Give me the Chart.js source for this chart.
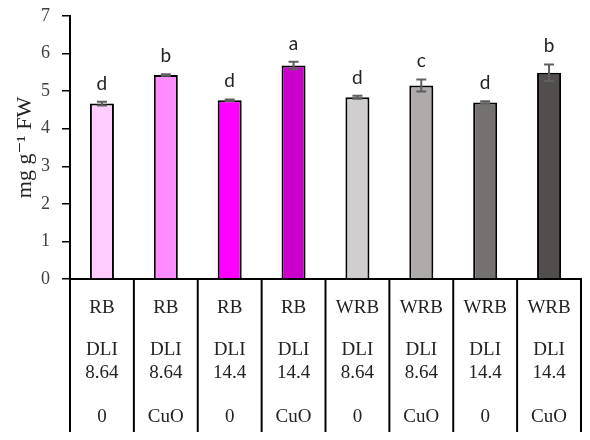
<!DOCTYPE html>
<html>
<head>
<meta charset="utf-8">
<script src="https://cdn.jsdelivr.net/npm/chart.js@4"></script>
<style>
  body { margin: 0; background: #fff; }
</style>
</head>
<body>
<canvas id="mainChart" width="590" height="440"></canvas>
<script>
const luz = ['RB', 'RB', 'RB', 'RB', 'WRB', 'WRB', 'WRB', 'WRB'];
const dli = ['8.64', '8.64', '14.4', '14.4', '8.64', '8.64', '14.4', '14.4'];
const cuo = ['0', 'CuO', '0', 'CuO', '0', 'CuO', '0', 'CuO'];
const valores = [4.67, 5.43, 4.76, 5.68, 4.84, 5.15, 4.70, 5.49];
const erros = [0.05, 0.02, 0.02, 0.10, 0.04, 0.16, 0.03, 0.22];
const letras = ['d', 'b', 'd', 'a', 'd', 'c', 'd', 'b'];
const cores = ['#FFCCFF', '#FF8CFF', '#FF00FF', '#CC00CC', '#D0CECE', '#AFABAB', '#767171', '#524E4E'];
const yTicks = [0, 1, 2, 3, 4, 5, 6, 7];

const serif = '"Liberation Serif", "DejaVu Serif", serif';

// error bars + significance letters
const barExtras = {
    id: 'barExtras',
    afterDatasetsDraw(chart) {
        const ctx = chart.ctx;
        const y = chart.scales.y;
        const meta = chart.getDatasetMeta(0);
        ctx.save();
        meta.data.forEach((bar, i) => {
            const top = y.getPixelForValue(valores[i] + erros[i]);
            const bot = y.getPixelForValue(valores[i] - erros[i]);
            ctx.strokeStyle = '#5f5f5f';
            ctx.lineWidth = 2;
            ctx.beginPath();
            ctx.moveTo(bar.x, top); ctx.lineTo(bar.x, bot);
            ctx.moveTo(bar.x - 5, top); ctx.lineTo(bar.x + 5, top);
            ctx.moveTo(bar.x - 5, bot); ctx.lineTo(bar.x + 5, bot);
            ctx.stroke();
            ctx.fillStyle = '#222';
            ctx.font = '19px Lato, "Open Sans", sans-serif';
            ctx.textAlign = 'center';
            ctx.textBaseline = 'alphabetic';
            ctx.fillText(letras[i], bar.x, top - 12);
        });
        ctx.restore();
    }
};

// table of treatments under the x axis
const tabela = {
    id: 'tabela',
    afterDraw(chart) {
        const ctx = chart.ctx;
        const x = chart.scales.x;
        const base = chart.chartArea.bottom;
        ctx.save();
        ctx.strokeStyle = '#000';
        ctx.lineWidth = 2;
        for (let i = 0; i <= luz.length; i++) {
            const px = x.getPixelForValue(i - 0.5);
            ctx.beginPath();
            ctx.moveTo(px, base);
            ctx.lineTo(px, base + 153);
            ctx.stroke();
        }
        ctx.fillStyle = '#222';
        ctx.font = '19px ' + serif;
        ctx.textAlign = 'center';
        ctx.textBaseline = 'middle';
        for (let i = 0; i < luz.length; i++) {
            const px = x.getPixelForValue(i);
            ctx.fillText(luz[i], px, base + 29);
            ctx.fillText('DLI', px, base + 71);
            ctx.fillText(dli[i], px, base + 94);
            ctx.fillText(cuo[i], px, base + 138);
        }
        ctx.restore();
    }
};

const ctxBar = document.getElementById('mainChart').getContext('2d');
const barChart = new Chart(ctxBar, {
    type: 'bar',
    data: {
        labels: luz.map((l, i) => l + ' DLI ' + dli[i] + ' ' + cuo[i]),
        datasets: [{
            data: valores,
            backgroundColor: cores,
            borderColor: '#000',
            borderWidth: 2,
            barPercentage: 0.376,
            categoryPercentage: 1
        }]
    },
    options: {
        responsive: false,
        animation: false,
        layout: {
            padding: { top: 16, right: 9, left: 0, bottom: 0 }
        },
        scales: {
            x: {
                grid: { display: false },
                border: { color: '#000', width: 2 },
                ticks: { display: false },
                afterFit: function(scale) { scale.height = 161; }
            },
            y: {
                min: 0,
                max: 7,
                afterBuildTicks: function(scale) {
                    scale.ticks = yTicks.map(v => ({ value: v }));
                },
                grid: {
                    drawOnChartArea: false,
                    drawTicks: true,
                    tickLength: 8,
                    color: '#000',
                    lineWidth: 1.5
                },
                border: { color: '#000', width: 2 },
                ticks: {
                    color: '#404040',
                    padding: 12,
                    font: { family: serif, size: 18 }
                },
                title: {
                    display: true,
                    text: 'mg g⁻¹ FW',
                    color: '#222',
                    padding: { top: 12, bottom: 0 },
                    font: { family: serif, size: 22 }
                },
                afterFit: function(scale) {
                    scale.width = 70;
                    scale.paddingTop = 0;
                    scale.paddingBottom = 0;
                }
            }
        },
        plugins: {
            legend: { display: false },
            tooltip: { enabled: false }
        }
    },
    plugins: [barExtras, tabela]
});
</script>
</body>
</html>
